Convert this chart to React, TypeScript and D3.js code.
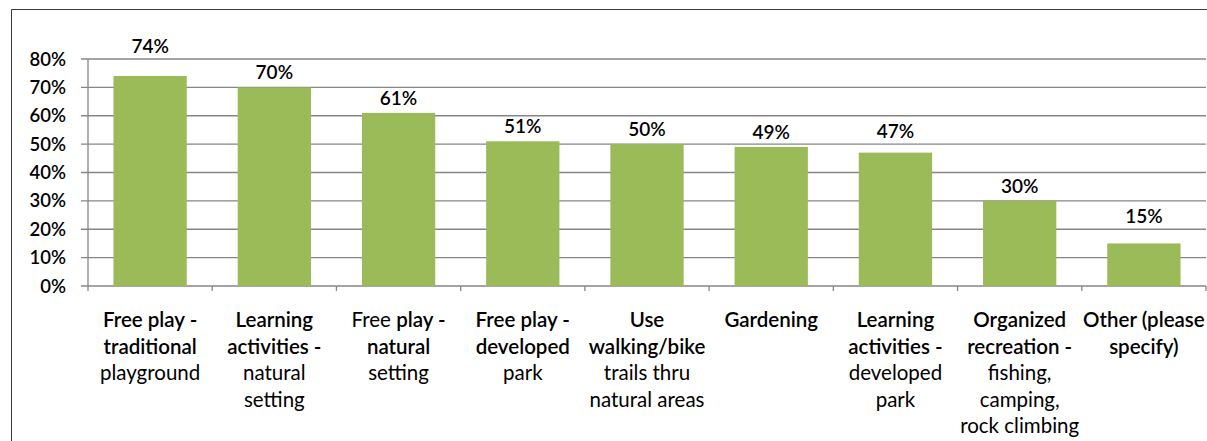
import React from "react";
import * as d3 from "d3";

// Data
const categories: string[] = [
  "Free play - traditional playground",
  "Learning activities - natural setting",
  "Free play - natural setting",
  "Free play - developed park",
  "Use walking/bike trails thru natural areas",
  "Gardening",
  "Learning activities - developed park",
  "Organized recreation - fishing, camping, rock climbing",
  "Other (please specify)",
];
const values: number[] = [74, 70, 61, 51, 50, 49, 47, 30, 15];
const yTicks: number[] = [0, 10, 20, 30, 40, 50, 60, 70, 80];
// label lines, each a list of [text, bold] segments
const labelLines: [string, boolean][][][] = [
  [[["Free play -", true]], [["traditional", true]], [["playground", false]]],
  [[["Learning", true]], [["activities -", true]], [["natural", false]], [["setting", false]]],
  [[["Free ", false], ["play -", true]], [["natural", true]], [["setting", false]]],
  [[["Free play -", true]], [["developed", true]], [["park", false]]],
  [[["Use", true]], [["walking/bike", true]], [["trails thru", false]], [["natural areas", false]]],
  [[["Gardening", true]]],
  [[["Learning", true]], [["activities -", true]], [["developed", false]], [["park", false]]],
  [[["Organized", true]], [["recreation -", true]], [["fishing,", false]], [["camping,", false]], [["rock climbing", false]]],
  [[["Other (please", true]], [["specify)", true]]],
];

const W = 1207;
const H = 441;
const left = 88;
const right = 1206;
const top = 59;
const bottom = 286;
const FONT = "Lato, 'Open Sans', sans-serif";

export default function App() {
  const x = d3.scaleBand<number>().domain(d3.range(categories.length)).range([left, right]).paddingInner(0.41).paddingOuter(0.205);
  const xb = d3.scaleBand<number>().domain(d3.range(categories.length)).range([left, right]);
  const y = d3.scaleLinear().domain([0, 80]).range([bottom, top]);
  const gridYs = yTicks.map((t) => y(t));

  const labelY = (v: number) => {
    let b = y(v) - 8;
    for (const g of gridYs) {
      if (g > b - 14 && g < b + 3) {
        b = g - 6;
        break;
      }
    }
    return b;
  };

  return (
    <svg width={W} height={H} style={{ position: "absolute", left: 0, top: 0, background: "#fff" }} fontFamily={FONT}>
      <rect x={0} y={0} width={W} height={H} fill="#fff" />
      {/* frame */}
      <line x1={11.5} y1={9.5} x2={W} y2={9.5} stroke="#3a3a3a" strokeWidth={1} />
      <line x1={11.5} y1={9.5} x2={11.5} y2={H} stroke="#3a3a3a" strokeWidth={1} />
      {/* gridlines */}
      {yTicks.map((t) => (
        <line key={"g" + t} x1={81} x2={right} y1={y(t)} y2={y(t)} stroke="#868686" strokeWidth={1.3} />
      ))}
      {/* y axis */}
      <line x1={left} x2={left} y1={top} y2={bottom + 5} stroke="#868686" strokeWidth={1.3} />
      {xb.domain().map((i) => (
        <line key={"t" + i} x1={(xb(i) as number) + xb.bandwidth()} x2={(xb(i) as number) + xb.bandwidth()} y1={bottom} y2={bottom + 5} stroke="#868686" strokeWidth={1.3} />
      ))}
      {yTicks.map((t) => (
        <text key={"yl" + t} x={66} y={y(t) + 6.5} textAnchor="end" fontSize={18.5} fontWeight={600} fill="#000">
          {t + "%"}
        </text>
      ))}
      {/* bars */}
      {values.map((v, i) => (
        <rect key={"b" + i} x={x(i)} y={y(v)} width={x.bandwidth()} height={bottom - y(v)} fill="#9BBB59" />
      ))}
      {values.map((v, i) => (
        <text key={"v" + i} x={(x(i) as number) + x.bandwidth() / 2} y={labelY(v)} textAnchor="middle" fontSize={19} fontWeight={600} fill="#000">
          {v + "%"}
        </text>
      ))}
      {/* category labels */}
      {labelLines.map((lines, i) => (
        <text key={"c" + i} textAnchor="middle" fontSize={20.5} fill="#000">
          {lines.map((segs, j) => (
            <tspan key={j} x={(xb(i) as number) + xb.bandwidth() / 2} y={327 + j * 26.6}>
              {segs.map(([s, b], k) => (
                <tspan key={k} fontWeight={b ? 600 : 400}>
                  {s}
                </tspan>
              ))}
            </tspan>
          ))}
        </text>
      ))}
    </svg>
  );
}
